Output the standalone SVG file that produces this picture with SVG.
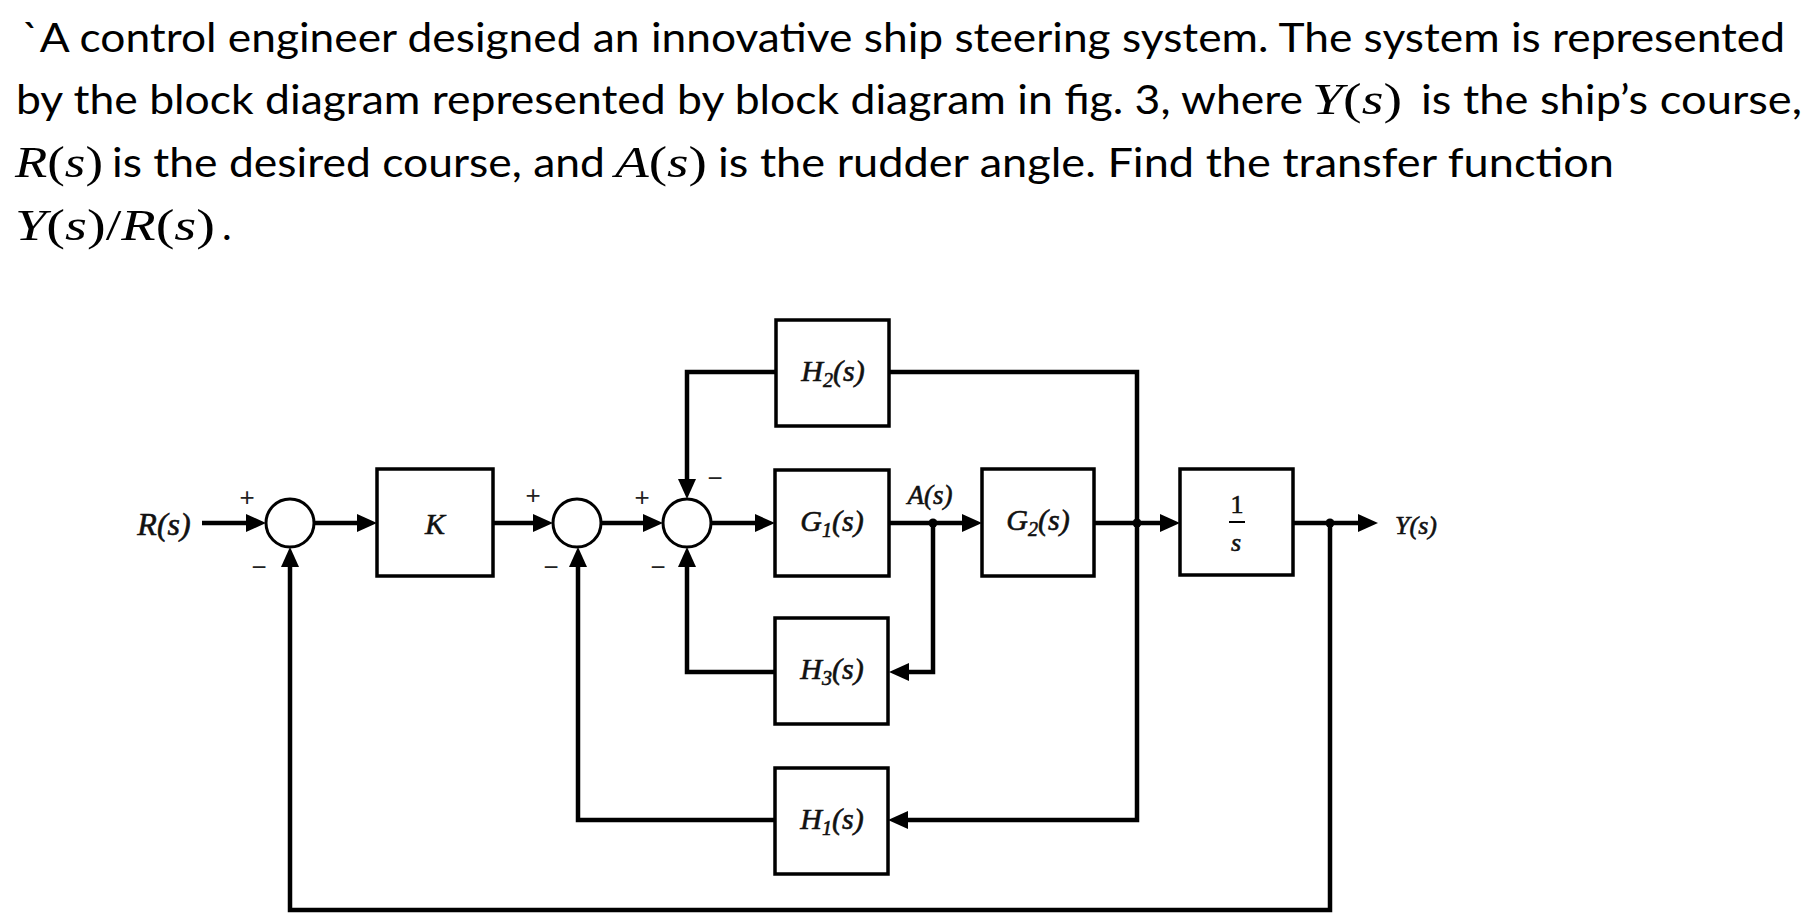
<svg xmlns="http://www.w3.org/2000/svg" width="1810" height="924" viewBox="0 0 1810 924">
<style>
.q{font-family:Lato,"Open Sans","Liberation Sans",sans-serif;font-size:41px;fill:#000}
.m{font-family:"Liberation Serif","DejaVu Serif",serif;font-size:44px;fill:#000}
.i{font-style:italic}
.box{fill:#fff;stroke:#000;stroke-width:3.5}
.sum{fill:#fff;stroke:#000;stroke-width:3}
.lbl{font-family:"Liberation Serif","DejaVu Serif",serif;font-style:italic;font-size:30px;text-anchor:middle;fill:#111;stroke:#111;stroke-width:0.6}
.sub{font-size:20px}
.sgn{font-family:"Liberation Sans",sans-serif;font-size:26px;text-anchor:middle;fill:#222}
.w{fill:none;stroke:#000;stroke-width:4.5;stroke-linejoin:miter}
.a{marker-end:url(#ah)}
.dot{fill:#000}
</style>
<defs>
<marker id="ah" markerUnits="userSpaceOnUse" markerWidth="22" markerHeight="18" refX="2" refY="9" orient="auto"><path d="M0,0 L20,9 L0,18 z" fill="#000"/></marker>
</defs>
<rect width="1810" height="924" fill="#fff"/>

<g id="question">
<text class="q" x="22" y="52" textLength="1763" lengthAdjust="spacingAndGlyphs">`A control engineer designed an innovative ship steering system. The system is represented</text>
<text class="q" x="16" y="114" textLength="1287" lengthAdjust="spacingAndGlyphs">by the block diagram represented by block diagram in fig. 3, where</text>
<text class="m" x="1312" y="114" textLength="90" lengthAdjust="spacingAndGlyphs"><tspan class="i">Y</tspan>(<tspan class="i">s</tspan>)</text>
<text class="q" x="1421" y="114" textLength="381" lengthAdjust="spacingAndGlyphs">is the ship’s course,</text>
<text class="m" x="15" y="177" textLength="88" lengthAdjust="spacingAndGlyphs"><tspan class="i">R</tspan>(<tspan class="i">s</tspan>)</text>
<text class="q" x="112" y="177" textLength="493" lengthAdjust="spacingAndGlyphs">is the desired course, and</text>
<text class="m" x="615" y="177" textLength="92" lengthAdjust="spacingAndGlyphs"><tspan class="i">A</tspan>(<tspan class="i">s</tspan>)</text>
<text class="q" x="718" y="177" textLength="896" lengthAdjust="spacingAndGlyphs">is the rudder angle. Find the transfer function</text>
<text class="m" x="15" y="240" textLength="200" lengthAdjust="spacingAndGlyphs"><tspan class="i">Y</tspan>(<tspan class="i">s</tspan>)/<tspan class="i">R</tspan>(<tspan class="i">s</tspan>)</text>
<text class="q" x="222" y="240">.</text>
</g>

<g id="connectors">
<path class="w a" d="M202,523 H248"/>
<path class="w a" d="M314,523 H359"/>
<path class="w a" d="M493,523 H535"/>
<path class="w a" d="M601,523 H645"/>
<path class="w a" d="M711,523 H757"/>
<path class="w a" d="M889,523 H964"/>
<path class="w a" d="M1094,523 H1162"/>
<path class="w a" d="M1293,523 H1360"/>
<path class="w" d="M1137,523 V372 H889"/>
<path class="w a" d="M776,372 H687 V481"/>
<path class="w a" d="M933,523 V672 H907"/>
<path class="w a" d="M775,672 H687 V565"/>
<path class="w a" d="M1137,523 V820 H906"/>
<path class="w a" d="M775,820 H578 V565"/>
<path class="w a" d="M1330,523 V910 H290 V565"/>
<circle class="dot" cx="933" cy="523" r="4.5"/>
<circle class="dot" cx="1137" cy="523" r="4.5"/>
<circle class="dot" cx="1330" cy="523" r="4.5"/>
</g>

<g id="sum1">
<circle class="sum" cx="290" cy="523" r="24"/>
<text class="sgn" x="247" y="506">+</text>
<text class="sgn" x="259" y="576">−</text>
</g>
<g id="sum2">
<circle class="sum" cx="577" cy="523" r="24"/>
<text class="sgn" x="533" y="504">+</text>
<text class="sgn" x="551" y="576">−</text>
</g>
<g id="sum3">
<circle class="sum" cx="687" cy="523" r="24"/>
<text class="sgn" x="642" y="506">+</text>
<text class="sgn" x="715" y="487">−</text>
<text class="sgn" x="658" y="576">−</text>
</g>

<g id="input-label">
<text class="lbl" x="164" y="535" style="font-size:32px">R(s)</text>
</g>
<g id="output-label">
<text class="lbl" x="1416" y="534" style="font-size:26px">Y(s)</text>
</g>
<g id="rudder-label">
<text class="lbl" x="930" y="504" style="font-size:27px">A(s)</text>
</g>

<g id="K">
<rect class="box" x="377" y="469" width="116" height="107"/>
<text class="lbl" x="435" y="534">K</text>
</g>
<g id="H2">
<rect class="box" x="776" y="320" width="113" height="106"/>
<text class="lbl" x="833" y="381">H<tspan class="sub" dy="6">2</tspan><tspan dy="-6">(s)</tspan></text>
</g>
<g id="G1">
<rect class="box" x="775" y="470" width="114" height="106"/>
<text class="lbl" x="832" y="531">G<tspan class="sub" dy="6">1</tspan><tspan dy="-6">(s)</tspan></text>
</g>
<g id="G2">
<rect class="box" x="982" y="469" width="112" height="107"/>
<text class="lbl" x="1038" y="530">G<tspan class="sub" dy="6">2</tspan><tspan dy="-6">(s)</tspan></text>
</g>
<g id="integrator">
<rect class="box" x="1180" y="469" width="113" height="106"/>
<text class="lbl" x="1237" y="513" style="font-style:normal;font-size:26px">1</text>
<line x1="1229" y1="522" x2="1245" y2="522" stroke="#000" stroke-width="2"/>
<text class="lbl" x="1236" y="551" style="font-size:26px">s</text>
</g>
<g id="H3">
<rect class="box" x="775" y="618" width="113" height="106"/>
<text class="lbl" x="832" y="679">H<tspan class="sub" dy="6">3</tspan><tspan dy="-6">(s)</tspan></text>
</g>
<g id="H1">
<rect class="box" x="775" y="768" width="113" height="106"/>
<text class="lbl" x="832" y="829">H<tspan class="sub" dy="6">1</tspan><tspan dy="-6">(s)</tspan></text>
</g>
</svg>
